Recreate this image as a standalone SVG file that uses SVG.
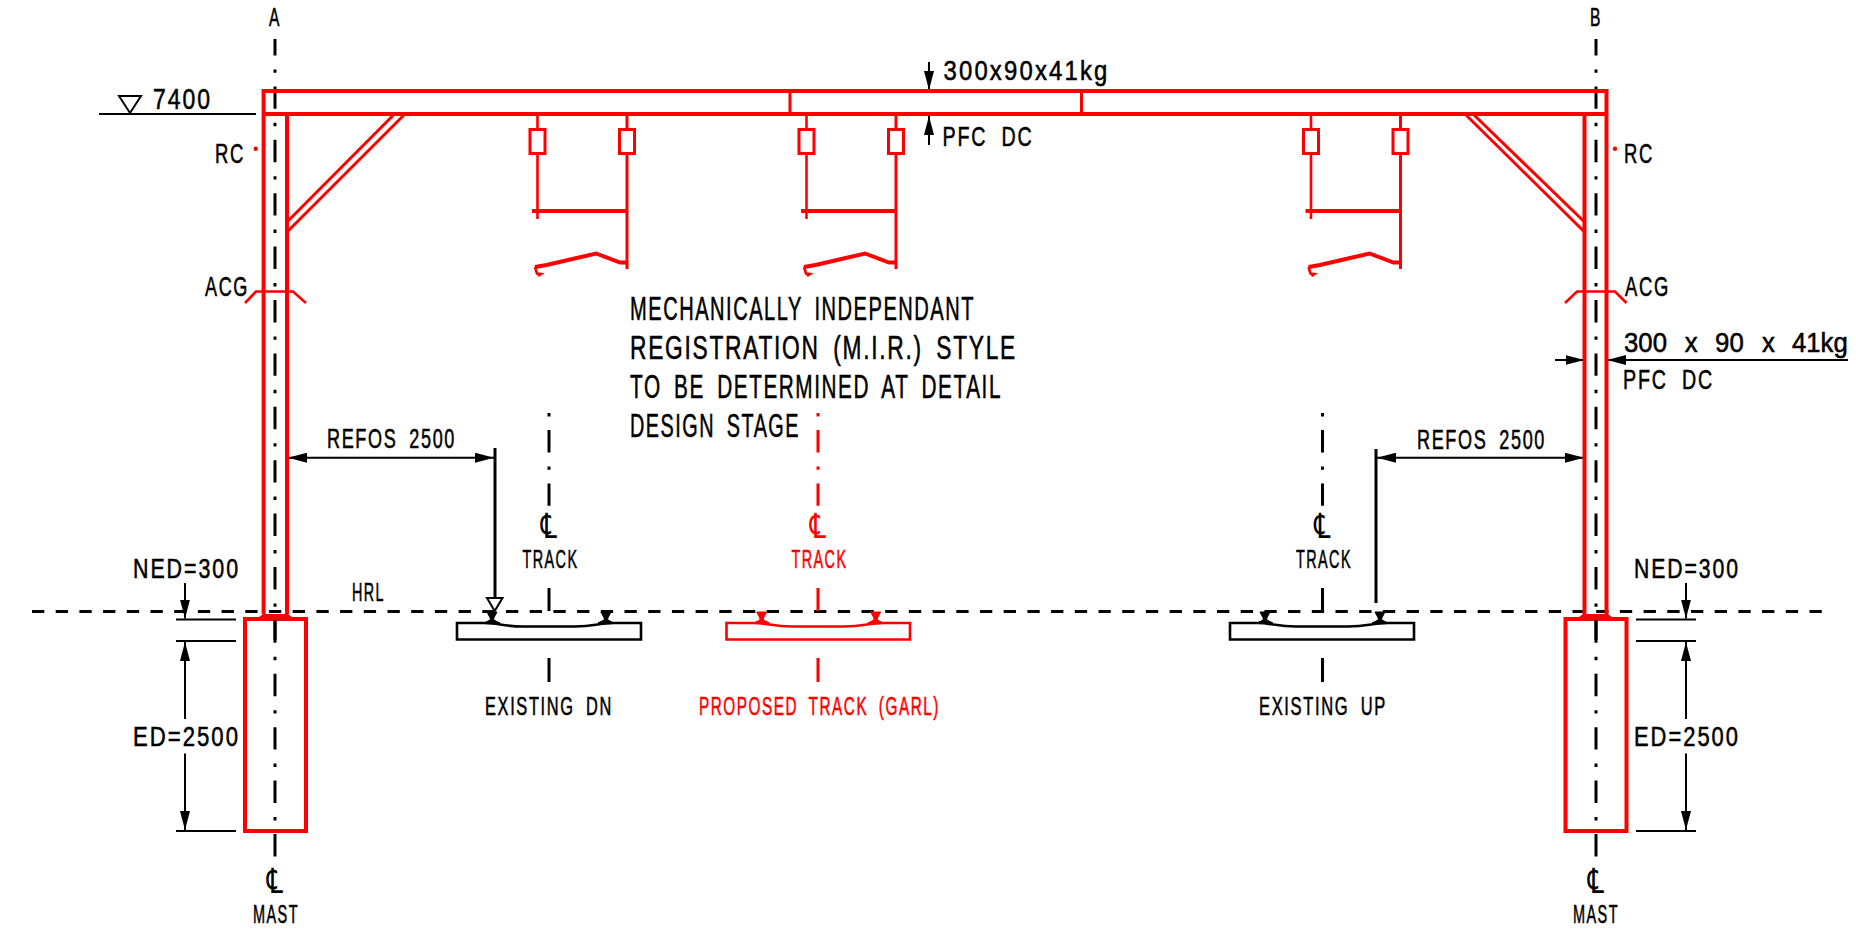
<svg xmlns="http://www.w3.org/2000/svg" width="1856" height="931" viewBox="0 0 1856 931">
<style>
text{font-family:"Liberation Sans",Arial,sans-serif;fill:#000;stroke:#000;stroke-width:.55;letter-spacing:2.5px;word-spacing:4px}
.t{font-size:27.5px}.s{font-size:25px}.m{font-size:33px}
.sym{font-family:"DejaVu Sans",sans-serif;font-size:30px;text-anchor:middle;stroke-width:0;letter-spacing:0}
text.r{fill:#f00;stroke:#f00}
.red{fill:none;stroke:#f00;stroke-width:4;stroke-linejoin:miter}
.red3{fill:none;stroke:#f00;stroke-width:3}
.red2{fill:none;stroke:#f00;stroke-width:2.6}
.blk{fill:none;stroke:#000;stroke-width:2}
.cl{fill:none;stroke:#000;stroke-width:3;stroke-dasharray:22.4 14 3.4 13.6}
.clr{fill:none;stroke:#f00;stroke-width:3;stroke-dasharray:3.4 13.6 22.4 14}
.clt{fill:none;stroke:#000;stroke-width:3;stroke-dasharray:3.4 13.6 22.4 14}
.tick{fill:none;stroke:#000;stroke-width:3}
.tickr{fill:none;stroke:#f00;stroke-width:3}
.hrl{fill:none;stroke:#000;stroke-width:3;stroke-dasharray:12.3 11.4}
.slab{fill:none;stroke:#000;stroke-width:2.6}
.slabr{fill:none;stroke:#f00;stroke-width:2.6}
</style>
<defs>
<marker id="ah" markerUnits="userSpaceOnUse" viewBox="0 0 19 10" refX="19" refY="5" markerWidth="19" markerHeight="10" orient="auto-start-reverse"><path d="M0 0L19 5L0 10Z" fill="#000"/></marker>
<g id="hanger">
<path class="red2" d="M0 114V129M0 154V219"/>
<path class="red3" d="M89.5 114V129M89.5 154V269"/>
<path class="red" d="M-5.5 211H89.5"/>
<rect class="red3" x="-7.5" y="129.5" width="15" height="24"/>
<rect class="red3" x="82" y="129.5" width="15" height="24"/>
<path class="red" d="M-2.5 267L9 265L58.5 253.5L82.5 262.5H89.5"/>
<path class="red2" d="M-2.5 267L-0.5 273.5L3.5 274L0.5 276"/>
</g>
<g id="rail">
<path d="M-5 612H5L1.8 618V620L8 623H-8L-1.8 620V618Z" fill="currentColor" stroke="currentColor" stroke-width="1"/>
</g>
</defs>

<g id="connectors">
<path class="hrl" d="M32 611.6H1824"/>
<path class="cl" stroke-dashoffset="6" d="M275 39V857"/>
<path class="cl" stroke-dashoffset="6" d="M1596 39V857"/>
<path class="clt" d="M549 413V506"/>
<path class="clr" d="M818 413V506"/>
<path class="clt" d="M1322.5 413V506"/>
<path class="tick" d="M549 588V611M549 658V682M1322.5 588V611M1322.5 658V682"/>
<path class="tickr" d="M818 588V611M818 658V682"/>
<path class="blk" d="M99 114H256"/>
<path class="blk" stroke-width="2.5" d="M119 96H141L130 113Z"/>
<path class="blk" marker-end="url(#ah)" d="M929 62V90"/>
<path class="blk" marker-end="url(#ah)" d="M929 145V116"/>
<path class="blk" marker-end="url(#ah)" d="M1555 360H1584.5"/>
<path class="blk" marker-end="url(#ah)" d="M1848 360H1607"/>
<path class="blk" marker-start="url(#ah)" marker-end="url(#ah)" d="M288 457.7H494"/>
<path class="tick" d="M495 448V598"/>
<path class="blk" d="M487 598H502.5L494.7 611Z"/>
<path class="blk" marker-start="url(#ah)" marker-end="url(#ah)" d="M1377 457.7H1584"/>
<path class="tick" d="M1376 449V603"/>
<path class="blk" d="M176 619.5H236M176 641H236M176 831H236"/>
<path class="blk" marker-end="url(#ah)" d="M185 583V618.5"/>
<path class="blk" marker-start="url(#ah)" d="M185 642V719"/>
<path class="blk" marker-end="url(#ah)" d="M185 753.5V830"/>
<path class="blk" d="M1636 619.5H1696M1636 641H1696M1636 831H1696"/>
<path class="blk" marker-end="url(#ah)" d="M1686 583V618.5"/>
<path class="blk" marker-start="url(#ah)" d="M1686 642V719"/>
<path class="blk" marker-end="url(#ah)" d="M1686 753.5V830"/>
</g>

<g id="portal">
<path class="red" d="M263.6 614V91H1606.5V614"/>
<path class="red" d="M263.6 114H1606.5"/>
<path class="red" d="M287 114V614M1584.5 114V614"/>
<path class="red3" d="M790 91V114M1081.5 91V114"/>
<path class="red3" d="M393.5 115L287 222M404 115L287 232M1466 115L1584.5 232M1474 115L1584.5 222"/>
<path class="red2" d="M245 303L256 291.5H293L306 303M1565 303L1577 291.5H1615L1626.5 303"/>
<circle cx="255.7" cy="148.7" r="2.2" fill="#f00"/>
<circle cx="1615" cy="148.7" r="2.2" fill="#f00"/>
</g>

<g id="hangers">
<use href="#hanger" x="537.5"/>
<use href="#hanger" x="806.5"/>
<use href="#hanger" x="1311"/>
</g>

<g id="foundation-a">
<rect class="red" x="245" y="619" width="61" height="212"/>
<path fill="#f00" d="M255 620L263 614H288L296 620Z"/>
<path class="tick" d="M275 620V640"/>
</g>
<g id="foundation-b">
<rect class="red" x="1565.5" y="619" width="61" height="212"/>
<path fill="#f00" d="M1575 620L1583 614H1608L1616 620Z"/>
<path class="tick" d="M1596 620V640"/>
</g>

<g id="track-dn" color="#000">
<path class="slab" d="M484 623H457V639.5H641V623H614C600 623 594 626.5 575 626.5H523C504 626.5 498 623 484 623Z"/>
<use href="#rail" x="492"/><use href="#rail" x="606"/>
</g>
<g id="track-proposed" color="#f00">
<path class="slabr" d="M753 623H726.5V639.5H910V623H884C870 623 863 626.5 844 626.5H792C773 626.5 767 623 753 623Z"/>
<use href="#rail" x="761.7"/><use href="#rail" x="875.7"/>
</g>
<g id="track-up" color="#000">
<path class="slab" d="M1257 623H1230V639.5H1414V623H1388C1374 623 1367 626.5 1348 626.5H1296C1277 626.5 1271 623 1257 623Z"/>
<use href="#rail" x="1265"/><use href="#rail" x="1380"/>
</g>

<g id="labels">
<text class="s" x="269" y="26" textLength="12" lengthAdjust="spacingAndGlyphs">A</text>
<text class="s" x="1590" y="26" textLength="12" lengthAdjust="spacingAndGlyphs">B</text>
<text class="t" x="153" y="109" style="font-size:29px" textLength="59" lengthAdjust="spacingAndGlyphs">7400</text>
<text class="t" x="215" y="163" textLength="30" lengthAdjust="spacingAndGlyphs">RC</text>
<text class="t" x="1624" y="163" textLength="30" lengthAdjust="spacingAndGlyphs">RC</text>
<text class="t" x="205" y="296" textLength="44" lengthAdjust="spacingAndGlyphs">ACG</text>
<text class="t" x="1625" y="296" textLength="45" lengthAdjust="spacingAndGlyphs">ACG</text>
<text class="t" x="943.5" y="80" textLength="166" lengthAdjust="spacingAndGlyphs">300x90x41kg</text>
<text class="t" x="942.5" y="145.5" style="word-spacing:10px" textLength="91" lengthAdjust="spacingAndGlyphs">PFC DC</text>
<text class="t" transform="translate(1624 351.5) scale(.92 1)" style="font-size:28px;letter-spacing:0;word-spacing:0"><tspan x="0">300</tspan><tspan x="66">x</tspan><tspan x="99">90</tspan><tspan x="150">x</tspan><tspan x="182.6">41kg</tspan></text>
<text class="t" x="1623" y="389" style="word-spacing:10px" textLength="91" lengthAdjust="spacingAndGlyphs">PFC DC</text>
<text class="m" x="630" y="319.5" style="word-spacing:8px" textLength="345" lengthAdjust="spacingAndGlyphs">MECHANICALLY INDEPENDANT</text>
<text class="m" x="630" y="358.5" style="word-spacing:8px" textLength="387" lengthAdjust="spacingAndGlyphs">REGISTRATION (M.I.R.) STYLE</text>
<text class="m" x="630" y="397.5" style="word-spacing:8px" textLength="372" lengthAdjust="spacingAndGlyphs">TO BE DETERMINED AT DETAIL</text>
<text class="m" x="630" y="437" style="word-spacing:8px" textLength="170" lengthAdjust="spacingAndGlyphs">DESIGN STAGE</text>
<text class="t" x="327" y="448" style="word-spacing:8px" textLength="129" lengthAdjust="spacingAndGlyphs">REFOS 2500</text>
<text class="t" x="1417" y="449" style="word-spacing:8px" textLength="129" lengthAdjust="spacingAndGlyphs">REFOS 2500</text>
<text class="sym" transform="translate(549 538) scale(.85 1.15)">℄</text>
<text class="sym r" style="stroke-width:0" transform="translate(818 538) scale(.85 1.15)">℄</text>
<text class="sym" transform="translate(1322.5 538) scale(.85 1.15)">℄</text>
<text class="sym" transform="translate(275 893) scale(.85 1.15)">℄</text>
<text class="sym" transform="translate(1596 893) scale(.85 1.15)">℄</text>
<text class="s" x="522.5" y="568" textLength="56" lengthAdjust="spacingAndGlyphs">TRACK</text>
<text class="s r" x="791.5" y="568" textLength="56" lengthAdjust="spacingAndGlyphs">TRACK</text>
<text class="s" x="1296" y="568" textLength="56" lengthAdjust="spacingAndGlyphs">TRACK</text>
<text class="t" x="133" y="578" textLength="107" lengthAdjust="spacingAndGlyphs">NED=300</text>
<text class="t" x="1634" y="578" textLength="106" lengthAdjust="spacingAndGlyphs">NED=300</text>
<text class="t" x="133" y="746" textLength="107" lengthAdjust="spacingAndGlyphs">ED=2500</text>
<text class="t" x="1634" y="746" textLength="106" lengthAdjust="spacingAndGlyphs">ED=2500</text>
<text class="s" x="352" y="601" textLength="33" lengthAdjust="spacingAndGlyphs">HRL</text>
<text class="s" x="485" y="715" style="word-spacing:8px" textLength="128" lengthAdjust="spacingAndGlyphs">EXISTING DN</text>
<text class="s r" x="699" y="715" style="word-spacing:8px" textLength="241" lengthAdjust="spacingAndGlyphs">PROPOSED TRACK (GARL)</text>
<text class="s" x="1259" y="715" style="word-spacing:8px" textLength="128" lengthAdjust="spacingAndGlyphs">EXISTING UP</text>
<text class="s" x="253" y="923" textLength="46" lengthAdjust="spacingAndGlyphs">MAST</text>
<text class="s" x="1573" y="923" textLength="46" lengthAdjust="spacingAndGlyphs">MAST</text>
</g>
</svg>
